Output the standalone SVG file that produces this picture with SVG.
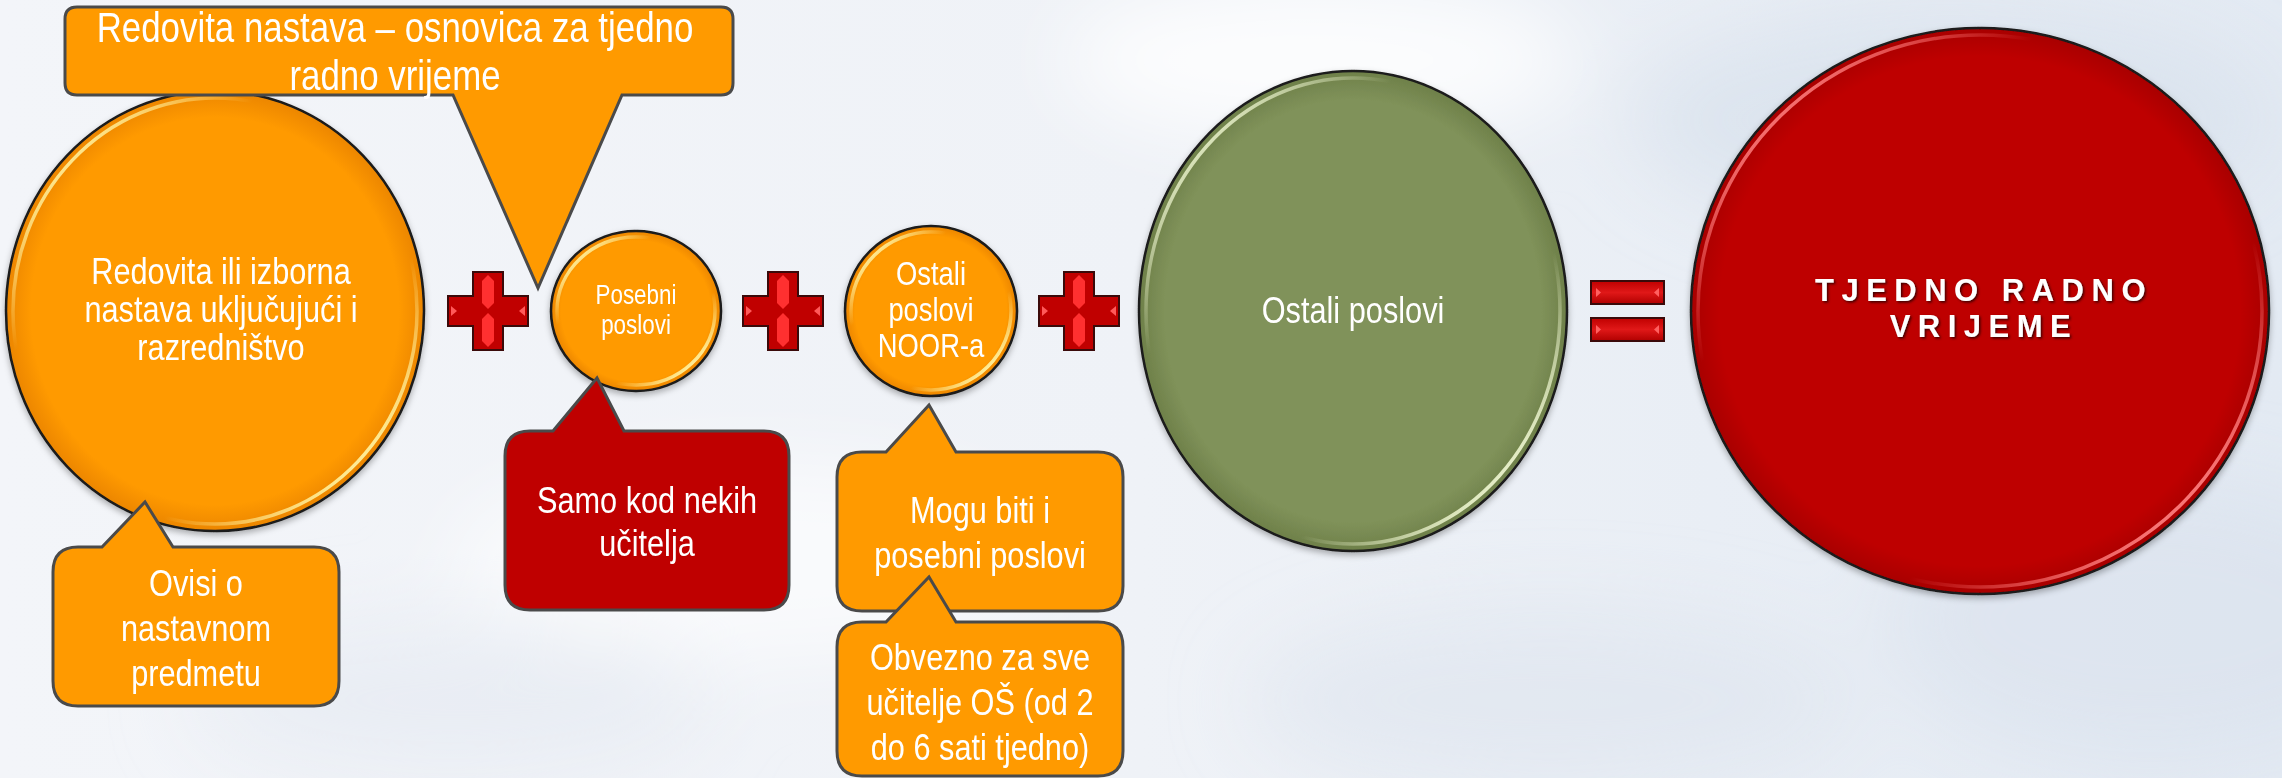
<svg xmlns="http://www.w3.org/2000/svg" width="2282" height="778" viewBox="0 0 2282 778">
<defs>
<style>
.t{font-family:"Liberation Sans",Arial,sans-serif;fill:#fff;text-anchor:middle}
.shape{stroke:#1a1a1a;stroke-width:2.5}
.hl{fill:none;stroke-width:3.5}
.callout{stroke:#4a4a4a;stroke-width:3;stroke-linejoin:miter}
.co{fill:#FF9A00}
.cr{fill:#BF0000}
</style>
<linearGradient id="bg" x1="0" y1="0" x2="1" y2="0">
<stop offset="0" stop-color="#f3f5f9"/><stop offset="0.5" stop-color="#eff2f7"/><stop offset="1" stop-color="#e3eaf3"/>
</linearGradient>
<filter id="blur" x="-50%" y="-50%" width="200%" height="200%"><feGaussianBlur stdDeviation="40"/></filter>
<filter id="sh" x="-10%" y="-10%" width="120%" height="125%"><feDropShadow dx="0" dy="3" stdDeviation="3" flood-color="#000" flood-opacity="0.3"/></filter>
<filter id="ts" x="-10%" y="-30%" width="120%" height="160%"><feDropShadow dx="1.5" dy="1.5" stdDeviation="0.8" flood-color="#300" flood-opacity="0.9"/></filter>
<radialGradient id="gOrange" cx="0.5" cy="0.5" r="0.5"><stop offset="0.88" stop-color="#FF9A00"/><stop offset="1" stop-color="#EC8600"/></radialGradient>
<radialGradient id="gGreen" cx="0.5" cy="0.5" r="0.5"><stop offset="0.88" stop-color="#80925A"/><stop offset="1" stop-color="#6E8049"/></radialGradient>
<radialGradient id="gRed" cx="0.5" cy="0.5" r="0.5"><stop offset="0.9" stop-color="#BE0000"/><stop offset="1" stop-color="#A80000"/></radialGradient>
<linearGradient id="hlOrange" x1="0" y1="0" x2="1" y2="1">
<stop offset="0" stop-color="#fff3a0" stop-opacity="0.2"/><stop offset="0.13" stop-color="#fff3a0" stop-opacity="0.95"/><stop offset="0.3" stop-color="#fff3a0" stop-opacity="0"/><stop offset="0.68" stop-color="#fff3a0" stop-opacity="0"/><stop offset="0.86" stop-color="#fff3a0" stop-opacity="0.95"/><stop offset="1" stop-color="#fff3a0" stop-opacity="0.2"/>
</linearGradient>
<linearGradient id="hlGreen" x1="0" y1="0" x2="1" y2="1">
<stop offset="0" stop-color="#eef6d0" stop-opacity="0.2"/><stop offset="0.13" stop-color="#eef6d0" stop-opacity="0.9"/><stop offset="0.3" stop-color="#eef6d0" stop-opacity="0"/><stop offset="0.68" stop-color="#eef6d0" stop-opacity="0"/><stop offset="0.86" stop-color="#eef6d0" stop-opacity="0.95"/><stop offset="1" stop-color="#eef6d0" stop-opacity="0.2"/>
</linearGradient>
<linearGradient id="hlRed" x1="0" y1="0" x2="1" y2="1">
<stop offset="0" stop-color="#ff7070" stop-opacity="0.2"/><stop offset="0.13" stop-color="#ff8080" stop-opacity="0.95"/><stop offset="0.3" stop-color="#ff7070" stop-opacity="0"/><stop offset="0.68" stop-color="#ff7070" stop-opacity="0"/><stop offset="0.86" stop-color="#ff8080" stop-opacity="0.95"/><stop offset="1" stop-color="#ff7070" stop-opacity="0.2"/>
</linearGradient>
<linearGradient id="barGrad" x1="0" y1="0" x2="0" y2="1">
<stop offset="0" stop-color="#C00000"/><stop offset="0.5" stop-color="#e01818"/><stop offset="1" stop-color="#B00000"/>
</linearGradient>
<g id="plusSign">
<path d="M-15,-39 h30 v24 h25 v30 h-25 v24 h-30 v-24 h-25 v-30 h25 z" fill="#C00000" stroke="#3a0a0a" stroke-width="2"/>
<path d="M0,-36 L6,-30 L6,-8 L0,-2 L-6,-8 L-6,-30 Z" fill="#ff3030"/>
<path d="M0,36 L6,30 L6,8 L0,2 L-6,8 L-6,30 Z" fill="#ff3030"/>
<path d="M-37,-5 L-31,0 L-37,5 Z" fill="#ff5a5a"/>
<path d="M37,-5 L31,0 L37,5 Z" fill="#ff5a5a"/>
</g>
<g id="eqBar">
<rect x="0" y="0" width="73" height="23" fill="url(#barGrad)" stroke="#3a0a0a" stroke-width="2"/>
<path d="M5,7 L10,11.5 L5,16 Z" fill="#ff6060"/>
<path d="M68,7 L63,11.5 L68,16 Z" fill="#ff6060"/>
</g>
</defs>

<g id="background">
<rect width="2282" height="778" fill="url(#bg)"/>
<g filter="url(#blur)">
<ellipse cx="1950" cy="120" rx="320" ry="110" fill="#d6dfeb" opacity="0.6"/>
<ellipse cx="2150" cy="620" rx="260" ry="140" fill="#d8e1ec" opacity="0.6"/>
<ellipse cx="1550" cy="700" rx="300" ry="90" fill="#dde5ef" opacity="0.6"/>
<ellipse cx="1320" cy="60" rx="260" ry="80" fill="#ffffff" opacity="0.8"/>
<ellipse cx="750" cy="560" rx="300" ry="100" fill="#ffffff" opacity="0.6"/>
<ellipse cx="450" cy="700" rx="260" ry="80" fill="#e4e9f1" opacity="0.6"/>
</g>
</g>

<g id="node-redovita">
<ellipse cx="215" cy="311" rx="209" ry="220" fill="url(#gOrange)" class="shape" filter="url(#sh)"/>
<ellipse cx="215" cy="311" rx="202" ry="213" class="hl" stroke="url(#hlOrange)"/>
<text class="t" font-size="37" transform="translate(221 0) scale(0.83 1)"><tspan x="0" y="284">Redovita ili izborna</tspan><tspan x="0" y="322">nastava uključujući i</tspan><tspan x="0" y="360">razredništvo</tspan></text>
</g>

<g id="node-posebni">
<ellipse cx="636" cy="311" rx="85" ry="80" fill="url(#gOrange)" class="shape" filter="url(#sh)"/>
<ellipse cx="636" cy="311" rx="79" ry="74" class="hl" stroke="url(#hlOrange)"/>
<text class="t" font-size="27" transform="translate(636 0) scale(0.83 1)"><tspan x="0" y="304">Posebni</tspan><tspan x="0" y="334">poslovi</tspan></text>
</g>

<g id="node-noor">
<ellipse cx="931" cy="311" rx="86" ry="85" fill="url(#gOrange)" class="shape" filter="url(#sh)"/>
<ellipse cx="931" cy="311" rx="80" ry="79" class="hl" stroke="url(#hlOrange)"/>
<text class="t" font-size="33" transform="translate(931 0) scale(0.83 1)"><tspan x="0" y="285">Ostali</tspan><tspan x="0" y="321">poslovi</tspan><tspan x="0" y="357">NOOR-a</tspan></text>
</g>

<g id="node-ostali">
<ellipse cx="1353" cy="311" rx="214" ry="240" fill="url(#gGreen)" class="shape" filter="url(#sh)"/>
<ellipse cx="1353" cy="311" rx="207" ry="233" class="hl" stroke="url(#hlGreen)"/>
<text class="t" font-size="37" transform="translate(1353 0) scale(0.83 1)"><tspan x="0" y="323">Ostali poslovi</tspan></text>
</g>

<g id="node-tjedno">
<ellipse cx="1980" cy="311" rx="289" ry="283" fill="url(#gRed)" class="shape" filter="url(#sh)"/>
<ellipse cx="1980" cy="311" rx="282" ry="276" class="hl" stroke="url(#hlRed)"/>
<text class="t" font-size="31" font-weight="bold" letter-spacing="7.5" filter="url(#ts)"><tspan x="1984" y="301">TJEDNO RADNO</tspan><tspan x="1984" y="337">VRIJEME</tspan></text>
</g>

<g id="operators">
<use href="#plusSign" x="488" y="311"/>
<use href="#plusSign" x="783" y="311"/>
<use href="#plusSign" x="1079" y="311"/>
<use href="#eqBar" x="1591" y="281"/>
<use href="#eqBar" x="1591" y="318"/>
</g>

<g id="callout-redovita-nastava">
<path class="callout co" d="M77,7 H721 Q733,7 733,19 V83 Q733,95 721,95 H622 L538,288 L453,95 H77 Q65,95 65,83 V19 Q65,7 77,7 Z"/>
<text class="t" font-size="42" transform="translate(395 0) scale(0.83 1)"><tspan x="0" y="42">Redovita nastava – osnovica za tjedno</tspan><tspan x="0" y="90">radno vrijeme</tspan></text>
</g>

<g id="callout-ovisi">
<path class="callout co" d="M78,547 H102 L145,502 L173,547 H314 Q339,547 339,572 V681 Q339,706 314,706 H78 Q53,706 53,681 V572 Q53,547 78,547 Z"/>
<text class="t" font-size="37" transform="translate(196 0) scale(0.83 1)"><tspan x="0" y="596">Ovisi o</tspan><tspan x="0" y="641">nastavnom</tspan><tspan x="0" y="686">predmetu</tspan></text>
</g>

<g id="callout-samo">
<path class="callout cr" d="M530,431 H553 L597,378 L624,431 H764 Q789,431 789,456 V585 Q789,610 764,610 H530 Q505,610 505,585 V456 Q505,431 530,431 Z"/>
<text class="t" font-size="37" transform="translate(647 0) scale(0.83 1)"><tspan x="0" y="513">Samo kod nekih</tspan><tspan x="0" y="556">učitelja</tspan></text>
</g>

<g id="callout-mogu">
<path class="callout co" d="M862,452 H886 L929,405 L956,452 H1098 Q1123,452 1123,477 V586 Q1123,611 1098,611 H862 Q837,611 837,586 V477 Q837,452 862,452 Z"/>
<text class="t" font-size="37" transform="translate(980 0) scale(0.83 1)"><tspan x="0" y="523">Mogu biti i</tspan><tspan x="0" y="568">posebni poslovi</tspan></text>
</g>

<g id="callout-obvezno">
<path class="callout co" d="M862,622 H886 L929,577 L956,622 H1098 Q1123,622 1123,647 V751 Q1123,776 1098,776 H862 Q837,776 837,751 V647 Q837,622 862,622 Z"/>
<text class="t" font-size="37" transform="translate(980 0) scale(0.83 1)"><tspan x="0" y="670">Obvezno za sve</tspan><tspan x="0" y="715">učitelje OŠ (od 2</tspan><tspan x="0" y="760">do 6 sati tjedno)</tspan></text>
</g>
</svg>
